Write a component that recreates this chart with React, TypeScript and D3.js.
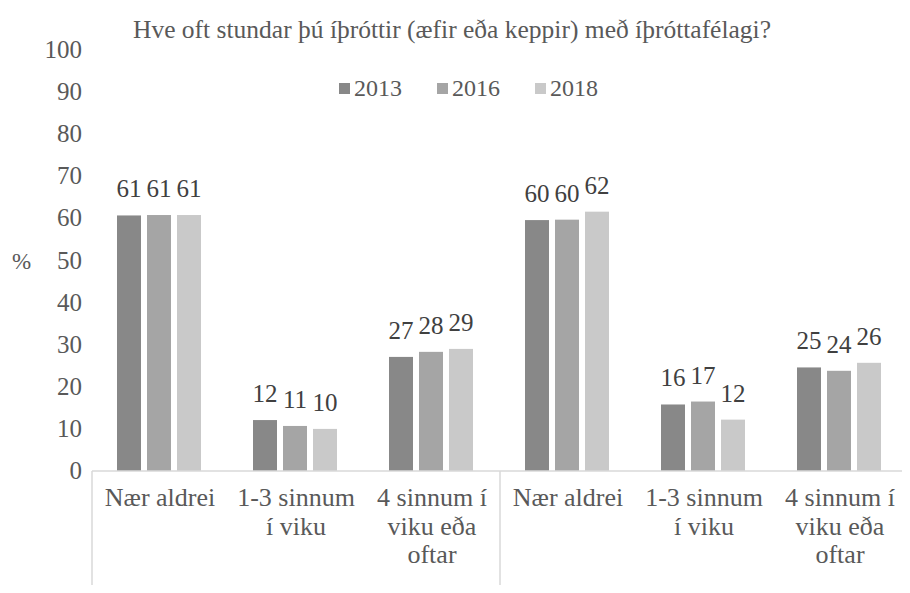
import React from 'react';
import * as d3 from 'd3';

const title = 'Hve oft stundar þú íþróttir (æfir eða keppir) með íþróttafélagi?';
const categories = [
  ['Nær aldrei'],
  ['1-3 sinnum', 'í viku'],
  ['4 sinnum í', 'viku eða', 'oftar'],
  ['Nær aldrei'],
  ['1-3 sinnum', 'í viku'],
  ['4 sinnum í', 'viku eða', 'oftar'],
];
const years = ['2013', '2016', '2018'];
const values2013 = [60.7, 12.1, 27.1, 59.6, 15.8, 24.6];
const values2016 = [60.8, 10.7, 28.3, 59.7, 16.5, 23.8];
const values2018 = [60.8, 10.0, 29.0, 61.6, 12.2, 25.7];
const yTicks = [0, 10, 20, 30, 40, 50, 60, 70, 80, 90, 100];
const colors = ['#888888', '#a5a5a5', '#c9c9c9'];

const W = 910;
const H = 593;
const left = 92;
const right = 908;
const top = 50;
const bottom = 471;
const font = 'Liberation Serif';
const textColor = '#595959';
const axisColor = '#d9d9d9';

const App = () => {
  const series = [values2013, values2016, values2018];

  const x = d3
    .scaleBand<number>()
    .domain(categories.map((d, i) => i))
    .range([left, right]);
  const x1 = d3
    .scaleBand<number>()
    .domain(years.map((d, i) => i))
    .range([25, x.bandwidth() - 27])
    .paddingInner(0.2);
  const y = d3.scaleLinear().domain([0, 100]).range([bottom, top]);
  const fmt = d3.format('.0f');

  return (
    <svg width={W} height={H} style={{ display: 'block', margin: -8 }}>
      {/* title */}
      <text x={133} y={38} fontSize={25.5} style={{ fontFamily: font, fill: textColor }}>
        {title}
      </text>

      {/* y axis labels */}
      {yTicks.map((t) => (
        <text key={t} x={82} y={y(t) + 8} textAnchor="end" fontSize={25} style={{ fontFamily: font, fill: textColor }}>
          {String(t)}
        </text>
      ))}
      <text x={12} y={y(50) + 8} fontSize={23} style={{ fontFamily: font, fill: textColor }}>
        %
      </text>

      {/* legend */}
      {years.map((yr, i) => (
        <g key={yr}>
          <rect x={339 + i * 98} y={83} width={11} height={11} fill={colors[i]} />
          <text x={354 + i * 98} y={96} fontSize={24} style={{ fontFamily: font, fill: textColor }}>
            {yr}
          </text>
        </g>
      ))}

      {/* bars */}
      {series.map((vals, si) => (
        <g key={years[si]}>
          {vals.map((v, ci) => (
            <rect
              key={ci}
              x={x(ci)! + x1(si)!}
              y={y(v)}
              width={x1.bandwidth()}
              height={y(0) - y(v)}
              fill={colors[si]}
            />
          ))}
        </g>
      ))}

      {/* value labels */}
      {series.map((vals, si) => (
        <g key={'l' + years[si]}>
          {vals.map((v, ci) => (
            <text
              key={ci}
              x={x(ci)! + x1(si)! + x1.bandwidth() / 2}
              y={y(v) - 18}
              textAnchor="middle"
              fontSize={25}
              style={{ fontFamily: font, fill: '#404040' }}
            >
              {fmt(v)}
            </text>
          ))}
        </g>
      ))}

      {/* x axis */}
      <line x1={left} x2={right} y1={bottom} y2={bottom} stroke={axisColor} strokeWidth={1.5} />
      {[x(0)!, x(3)!, right].map((px, i) => (
        <line key={i} x1={px} x2={px} y1={bottom} y2={H} stroke={axisColor} strokeWidth={1.5} />
      ))}

      {categories.map((lines, ci) =>
        lines.map((line, li) => (
          <text
            key={ci + '-' + li}
            x={x(ci)! + x.bandwidth() / 2}
            y={506 + li * 28.5}
            textAnchor="middle"
            fontSize={26}
            style={{ fontFamily: font, fill: textColor }}
          >
            {line}
          </text>
        ))
      )}
    </svg>
  );
};

export default App;
